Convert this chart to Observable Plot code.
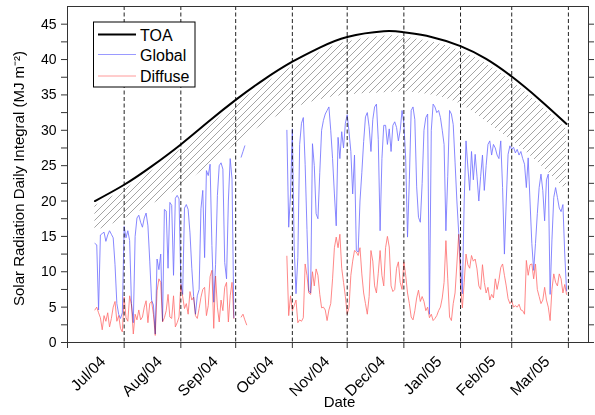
<!DOCTYPE html>
<html><head><meta charset="utf-8">
<script src="https://cdn.jsdelivr.net/npm/d3@7"></script>
<script src="https://cdn.jsdelivr.net/npm/@observablehq/plot@0.6"></script>
<style>
body{margin:0;background:#fff;}
#chart{width:595px;height:415px;}
</style>
</head><body><div id="chart"></div>
<script>
const D = s => new Date(s + "T00:00:00Z");

// ---- TOA curve and clear-sky band (read at ~half-month points) ----
const toaDates = ["2004-07-16","2004-08-01","2004-08-16","2004-09-01","2004-09-16","2004-10-01","2004-10-16","2004-11-01","2004-11-16","2004-12-01","2004-12-21","2005-01-01","2005-01-16","2005-02-01","2005-02-15","2005-03-01","2005-03-16","2005-03-31"];
const toaValues = [20.0,22.3,24.9,28.0,31.2,34.3,37.1,39.7,41.7,43.2,44.0,43.85,43.2,41.9,40.1,37.6,34.4,30.9];
const bandTop    = [19.3,21.6,24.2,27.3,30.5,33.6,36.4,39.0,41.0,42.5,43.3,43.2,42.5,41.2,39.4,36.9,33.7,30.2];
const bandBottom = [15.7,17.5,19.5,22.0,25.0,28.0,30.8,33.0,34.3,35.0,35.3,35.4,35.0,33.7,31.2,28.6,25.3,21.5];

// ---- daily Global series (three segments) ----
const globalStart = ["2004-07-16","2004-10-04","2004-10-29"];
const globalJulSep = [14.0,13.8,4.6,15.2,15.4,15.6,14.3,15.2,15.8,15.3,
  14.8,11.0,5.5,4.0,3.4,4.2,16.4,14.8,15.8,14.4,
  5.5,2.8,15.0,17.6,18.0,17.0,16.3,17.6,18.3,16.5,
  11.5,6.0,5.3,1.2,11.8,10.3,12.5,3.0,18.8,18.6,
  10.5,19.8,19.4,9.5,20.4,20.8,20.3,8.5,6.8,19.0,
  19.5,18.8,15.5,10.5,6.5,4.0,6.6,7.5,18.9,21.5,
  12.0,24.3,23.6,25.2,13.7,5.7,11.0,20.8,25.0,25.4,
  24.5,11.3,9.0,20.0,26.0,23.1,3.5];
const globalOct = [26.2,27.0,27.8];
const globalOctMar = [30.0,16.3,21.0,30.2,13.4,6.9,12.0,28.0,31.0,31.8,
  25.2,16.0,7.3,7.0,28.1,25.0,18.2,17.5,24.0,30.0,
  31.4,32.3,32.8,33.3,30.0,26.0,21.0,16.5,29.0,26.0,
  29.8,27.5,31.0,32.2,29.8,27.0,21.0,26.5,13.0,12.8,
  20.0,24.0,28.4,31.9,32.5,30.5,27.0,31.5,33.3,33.7,
  28.7,15.8,26.0,30.7,30.7,28.0,30.2,27.0,30.7,31.2,
  30.4,28.5,30.0,32.8,31.0,26.0,14.9,23.0,32.8,33.3,
  31.5,22.0,17.7,17.0,22.5,30.0,31.8,32.3,4.0,30.0,
  33.7,33.3,32.5,32.8,31.8,30.0,28.0,15.8,23.5,32.8,
  32.3,30.8,25.5,20.0,15.5,11.0,6.9,20.0,28.5,24.8,
  21.5,27.0,23.0,26.6,23.5,20.0,23.5,26.5,21.5,25.0,
  28.0,28.5,26.5,28.0,27.5,26.5,26.0,28.5,21.9,12.5,
  20.0,26.6,27.8,27.3,27.6,26.8,27.3,26.5,27.0,26.0,
  25.2,21.9,26.1,20.0,14.0,10.2,14.0,18.2,21.9,23.8,
  21.5,17.2,23.0,23.8,6.8,14.5,20.5,21.9,20.5,19.0,
  18.5,19.5,12.5,7.3];

// ---- daily Diffuse series (three segments) ----
const diffuseStart = ["2004-07-16","2004-10-04","2004-10-29"];
const diffuseJulSep = [4.6,5.0,4.2,3.5,1.8,3.8,3.0,4.2,2.2,3.4,
  5.0,5.8,3.0,3.8,2.0,1.5,6.4,3.5,3.0,6.6,
  5.3,1.2,4.0,3.2,4.6,3.2,3.6,5.0,5.9,2.8,
  5.5,5.8,4.0,1.0,7.3,9.0,8.5,2.9,3.5,4.5,
  6.8,3.6,3.4,6.6,2.2,2.8,3.6,8.2,6.5,4.8,
  5.5,4.0,7.2,6.0,6.4,3.8,3.4,4.8,6.4,7.5,
  7.8,3.8,5.2,9.3,10.2,2.0,9.4,5.0,2.9,6.0,
  4.5,7.8,8.5,2.9,6.6,8.5,3.4];
const diffuseOct = [3.6,4.0,3.2,2.5];
const diffuseOctMar = [12.2,3.8,6.6,4.5,5.2,6.0,2.8,3.2,3.0,3.5,
  11.1,9.5,7.0,6.8,10.0,8.0,10.4,9.5,6.8,4.9,
  5.0,4.6,3.1,4.6,5.5,9.0,13.4,14.9,13.4,15.3,
  10.5,8.5,6.5,4.0,5.0,9.5,11.5,13.0,12.8,12.3,
  13.4,9.7,7.0,5.5,4.0,6.5,13.0,11.5,8.0,7.0,
  9.8,13.0,9.5,8.0,13.4,15.0,13.5,8.0,7.2,7.5,
  10.5,11.4,8.5,7.5,11.4,9.5,7.0,5.5,3.6,3.2,
  4.5,6.3,7.4,5.8,6.5,5.8,4.5,5.0,3.5,4.0,
  3.1,3.4,3.8,4.5,5.0,6.3,8.5,14.4,9.0,3.6,
  3.1,5.5,7.0,11.1,15.3,8.0,4.9,8.5,12.5,11.0,
  10.5,12.3,11.5,11.8,10.4,8.0,7.5,11.0,8.5,7.0,
  7.8,6.0,6.8,6.3,9.0,7.5,8.8,10.6,11.1,9.5,
  8.0,6.2,5.5,5.9,5.0,5.2,5.0,5.4,4.6,4.5,
  4.0,11.6,9.5,11.0,11.1,9.0,11.1,7.5,6.5,5.5,
  6.0,7.8,6.0,5.0,3.1,7.5,9.7,8.5,8.0,9.7,
  9.0,7.0,8.2,6.8];

// ---- axes ----
const monthStarts = ["2004-07-01","2004-08-01","2004-09-01","2004-10-01","2004-11-01","2004-12-01","2005-01-01","2005-02-01","2005-03-01","2005-04-01"];
const monthLabels = ["Jul/04","Aug/04","Sep/04","Oct/04","Nov/04","Dec/04","Jan/05","Feb/05","Mar/05"];
const yMajor = [0,5,10,15,20,25,30,35,40,45];
const yMinor = [2.5,7.5,12.5,17.5,22.5,27.5,32.5,37.5,42.5];
const legendNames = ["TOA","Global","Diffuse"];
const xTitle = "Date";
const yTitle = "Solar Radiation Daily Integral (MJ m\u207B\u00B2)";

// ---- build tables ----
const toaRows = toaDates.map((d,i) => ({date: D(d), toa: toaValues[i], top: bandTop[i], bottom: bandBottom[i]}));
function daily(starts, segs) {
  const rows = [];
  segs.forEach((vals, s) => {
    const t0 = D(starts[s]);
    vals.forEach((v, i) => rows.push({date: d3.utcDay.offset(t0, i), value: v, seg: s}));
  });
  return rows;
}
const globalRows = daily(globalStart, [globalJulSep, globalOct, globalOctMar]);
const diffuseRows = daily(diffuseStart, [diffuseJulSep, diffuseOct, diffuseOctMar]);
const monthDates = monthStarts.map(D);
const labelRows = monthLabels.map((l,i) => ({date: new Date((+monthDates[i] + +monthDates[i+1]) / 2), label: l}));

const font = "'Liberation Sans', Arial, Helvetica, sans-serif";
const blue = "#7373ff", red = "#ff7373";

function hatchDefs() {
  const svgNS = "http://www.w3.org/2000/svg";
  const defs = document.createElementNS(svgNS, "defs");
  defs.innerHTML = '<pattern id="hatch" patternUnits="userSpaceOnUse" width="7" height="7">' +
    '<path d="M-1.75,1.75 L1.75,-1.75 M0,7 L7,0 M5.25,8.75 L8.75,5.25" stroke="#9a9a9a" stroke-width="0.9" fill="none"/></pattern>';
  return defs;
}

function legend() {
  const g = d3.create("svg:g").attr("font-family", font).attr("text-anchor", "start");
  g.append("rect").attr("x", 93.5).attr("y", 22).attr("width", 101.5).attr("height", 65)
    .attr("fill", "#fff").attr("stroke", "#000").attr("stroke-width", 1);
  const cols = ["#000", "#9a9aff", "#ff9a9a"], widths = [2, 1, 1], ly = [34.5, 54.5, 76], ty = [40.5, 61, 82];
  legendNames.forEach((n, i) => {
    g.append("line").attr("x1", 98).attr("x2", 136).attr("y1", ly[i]).attr("y2", ly[i])
      .attr("stroke", cols[i]).attr("stroke-width", widths[i]);
    g.append("text").attr("x", 140).attr("y", ty[i]).attr("font-size", 16).attr("fill", "#000")
      .attr("text-anchor", "start").text(n);
  });
  return g.node();
}

const chart = Plot.plot({
  width: 595, height: 415,
  marginLeft: 67, marginRight: 7, marginTop: 6, marginBottom: 73,
  style: {fontFamily: font, background: "#fff", color: "#000", overflow: "visible"},
  x: {type: "utc", domain: [D("2004-07-01"), D("2005-04-12")]},
  y: {domain: [0, 47.5]},
  marks: [
    hatchDefs,
    Plot.areaY(toaRows, {x: "date", y1: "bottom", y2: "top", fill: "url(#hatch)", curve: "natural"}),
    Plot.ruleX(monthDates.slice(1), {stroke: "#222", strokeWidth: 1, strokeDasharray: "4,2.5"}),
    Plot.lineY(globalRows, {x: "date", y: "value", z: "seg", stroke: blue, strokeWidth: 0.85, mixBlendMode: "multiply"}),
    Plot.lineY(diffuseRows, {x: "date", y: "value", z: "seg", stroke: red, strokeWidth: 0.85, mixBlendMode: "multiply"}),
    Plot.lineY(toaRows, {x: "date", y: "toa", stroke: "#000", strokeWidth: 2, curve: "natural"}),
    Plot.axisY({ticks: yMajor, tickSize: 6, tickPadding: 5, fontSize: 14, label: null, tickFormat: d => String(d), stroke: "#333"}),
    Plot.axisY({ticks: yMinor, tickSize: 6, tickFormat: () => "", label: null, stroke: "#333"}),
    Plot.axisY({anchor: "right", ticks: yMajor.concat(yMinor), tickSize: 5, tickFormat: () => "", label: null, stroke: "#333"}),
    Plot.axisX({ticks: monthDates, tickSize: 6, tickFormat: () => "", label: null, stroke: "#333"}),
    Plot.text(labelRows, {x: "date", text: "label", frameAnchor: "bottom", rotate: -45, textAnchor: "end", lineAnchor: "bottom", dx: 10.5, dy: 20, fontSize: 15.5}),
    Plot.text([xTitle], {frameAnchor: "bottom", textAnchor: "middle", lineAnchor: "bottom", dx: 11.5, dy: 64, fontSize: 15}),
    Plot.text([yTitle], {frameAnchor: "left", textAnchor: "middle", rotate: -90, lineAnchor: "middle", dx: -48, dy: 4, fontSize: 15}),
    Plot.frame({stroke: "#333", strokeWidth: 1}),
    legend
  ]
});
document.getElementById("chart").append(chart);
</script>
</body></html>
